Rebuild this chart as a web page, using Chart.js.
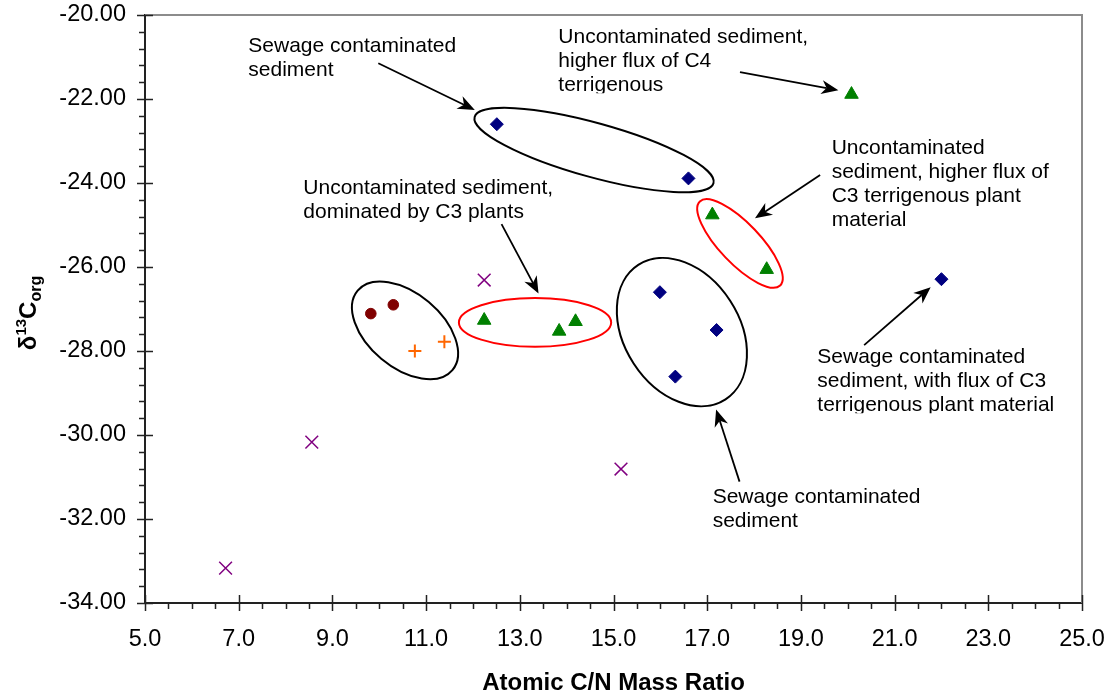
<!DOCTYPE html>
<html>
<head>
<meta charset="utf-8">
<script src="https://cdn.jsdelivr.net/npm/chart.js@4.4.0/dist/chart.umd.min.js"></script>
<style>
  html, body { margin: 0; padding: 0; background: #fff; }
  canvas { display: block; }
</style>
</head>
<body>
<canvas id="cnChart" width="1114" height="698"></canvas>
<script>
// C/N ratio (x) vs d13C org (y) for each sample group
const sewageCN = [12.51, 16.60, 15.99, 17.20, 16.32, 22.00];
const sewageD13C = [-22.60, -23.89, -26.60, -27.50, -28.61, -26.29];
const uncontamCN = [20.08, 17.11, 18.27, 12.24, 13.84, 14.19];
const uncontamD13C = [-21.89, -24.76, -26.06, -27.27, -27.53, -27.30];
const groupACN = [9.82, 10.30];
const groupAD13C = [-27.11, -26.90];
const groupBCN = [10.76, 11.39];
const groupBD13C = [-28.00, -27.78];
const groupCCN = [12.24, 8.56, 6.72, 15.16];
const groupCD13C = [-26.31, -30.17, -33.17, -30.81];

const xTickValues = [5, 7, 9, 11, 13, 15, 17, 19, 21, 23, 25];
const yTickValues = [-34, -32, -30, -28, -26, -24, -22, -20];

// groupings drawn round the points (box before rotation, in data units)
const ellipses = [
  { xMin: 11.94, xMax: 17.23, yMin: -23.86, yMax: -22.57, rotation: 15.5, color: '#000' },
  { xMin: 16.46, xMax: 18.94, yMin: -25.92, yMax: -24.96, rotation: 46.3, color: '#ff0000' },
  { xMin: 14.75, xMax: 18.17, yMin: -28.92, yMax: -26.18, rotation: 57, color: '#000' },
  { xMin: 9.23, xMax: 11.87, yMin: -28.39, yMax: -26.63, rotation: 40, color: '#000' },
  { xMin: 11.70, xMax: 14.95, yMin: -27.90, yMax: -26.74, rotation: 0, color: '#ff0000' }
];

const arrows = [
  { from: [9.98, -21.15], to: [12.04, -22.26] },
  { from: [17.70, -21.36], to: [19.80, -21.79] },
  { from: [19.41, -23.81], to: [18.02, -24.84] },
  { from: [12.61, -24.98], to: [13.40, -26.63] },
  { from: [17.69, -31.11], to: [17.19, -29.39] },
  { from: [20.35, -27.86], to: [21.77, -26.48] }
];

// x/y = left end of the first line's baseline; clip cuts below the last baseline
const notes = [
  { x: 7.205, y: -20.874, lines: ['Sewage contaminated', 'sediment'] },
  { x: 13.822, y: -20.674, lines: ['Uncontaminated sediment,', 'higher flux of C4', 'terrigenous'], clip: 2 },
  { x: 19.657, y: -23.310, lines: ['Uncontaminated', 'sediment, higher flux of', 'C3 terrigenous plant', 'material'] },
  { x: 8.379, y: -24.269, lines: ['Uncontaminated sediment,', 'dominated by C3 plants'] },
  { x: 17.117, y: -31.612, lines: ['Sewage contaminated', 'sediment'] },
  { x: 19.350, y: -28.293, lines: ['Sewage contaminated', 'sediment, with flux of C3', 'terrigenous plant material'], clip: 2 }
];

const FONT = '"Liberation Sans", Arial, sans-serif';
Chart.defaults.font.family = FONT;
Chart.defaults.color = '#000';

const toPoints = (xs, ys) => xs.map((x, i) => ({ x: x, y: ys[i] }));

const drawArrow = (ctx, x0, y0, x1, y1) => {
  const len = Math.hypot(x1 - x0, y1 - y0);
  const ux = (x1 - x0) / len, uy = (y1 - y0) / len;
  const nx = -uy, ny = ux;
  const L = 17, W = 7, notch = 5;
  const bx = x1 - ux * L, by = y1 - uy * L;
  const mx = x1 - ux * (L - notch), my = y1 - uy * (L - notch);
  ctx.beginPath();
  ctx.moveTo(x0, y0);
  ctx.lineTo(mx, my);
  ctx.stroke();
  ctx.beginPath();
  ctx.moveTo(x1, y1);
  ctx.lineTo(bx + nx * W, by + ny * W);
  ctx.lineTo(mx, my);
  ctx.lineTo(bx - nx * W, by - ny * W);
  ctx.closePath();
  ctx.fill();
};

const annotationsPlugin = {
  id: 'cnAnnotations',
  afterDraw(chart) {
    const { ctx, chartArea: area, scales: { x, y } } = chart;
    ctx.save();

    // grey frame on top and right
    ctx.strokeStyle = '#8c8c8c';
    ctx.lineWidth = 2;
    ctx.beginPath();
    ctx.moveTo(area.left, area.top);
    ctx.lineTo(area.right, area.top);
    ctx.lineTo(area.right, area.bottom);
    ctx.stroke();

    // tick marks: majors cross the axis, minors sit outside
    ctx.strokeStyle = '#222';
    ctx.lineWidth = 1.5;
    ctx.beginPath();
    for (let i = 0; i <= 40; i++) {
      const px = Math.round(x.getPixelForValue(5 + i * 0.5)) + 0.5;
      const major = i % 4 === 0;
      ctx.moveTo(px, area.bottom + (major ? -8 : 0));
      ctx.lineTo(px, area.bottom + (major ? 8 : 6));
    }
    for (let i = 0; i <= 35; i++) {
      const py = Math.round(y.getPixelForValue(-34 + i * 0.4)) + 0.5;
      const major = i % 5 === 0;
      ctx.moveTo(area.left - (major ? 8 : 6), py);
      ctx.lineTo(area.left + (major ? 8 : 0), py);
    }
    ctx.stroke();

    // ellipses
    ctx.lineWidth = 2;
    ellipses.forEach((e) => {
      const x0 = x.getPixelForValue(e.xMin), x1 = x.getPixelForValue(e.xMax);
      const y0 = y.getPixelForValue(e.yMin), y1 = y.getPixelForValue(e.yMax);
      ctx.strokeStyle = e.color;
      ctx.beginPath();
      ctx.ellipse((x0 + x1) / 2, (y0 + y1) / 2, Math.abs(x1 - x0) / 2, Math.abs(y1 - y0) / 2,
        e.rotation * Math.PI / 180, 0, Math.PI * 2);
      ctx.stroke();
    });

    // arrows
    ctx.strokeStyle = '#000';
    ctx.fillStyle = '#000';
    ctx.lineWidth = 1.8;
    arrows.forEach((a) => {
      drawArrow(ctx,
        x.getPixelForValue(a.from[0]), y.getPixelForValue(a.from[1]),
        x.getPixelForValue(a.to[0]), y.getPixelForValue(a.to[1]));
    });

    // notes
    ctx.font = '21px ' + FONT;
    ctx.textAlign = 'left';
    ctx.textBaseline = 'alphabetic';
    notes.forEach((n) => {
      const px = x.getPixelForValue(n.x), py = y.getPixelForValue(n.y);
      ctx.save();
      if (n.clip !== undefined) {
        ctx.beginPath();
        ctx.rect(px - 5, py - 30, 400, (n.lines.length - 1) * 24 + 30 + n.clip);
        ctx.clip();
      }
      n.lines.forEach((line, i) => ctx.fillText(line, px, py + i * 24));
      ctx.restore();
    });

    // y axis title: delta 13 C org
    ctx.translate(36, (area.top + area.bottom) / 2 + 4);
    ctx.rotate(-Math.PI / 2);
    const parts = [
      { t: '\u03b4', f: 'bold 24px ' + FONT, dy: 0 },
      { t: '13', f: 'bold 15px ' + FONT, dy: -10 },
      { t: 'C', f: 'bold 24px ' + FONT, dy: 0 },
      { t: 'org', f: 'bold 16px ' + FONT, dy: 5 }
    ];
    let total = 0;
    parts.forEach((p) => { ctx.font = p.f; p.w = ctx.measureText(p.t).width; total += p.w; });
    let cx = -total / 2;
    parts.forEach((p) => { ctx.font = p.f; ctx.fillText(p.t, cx, p.dy); cx += p.w; });

    ctx.restore();
  }
};

new Chart(document.getElementById('cnChart'), {
  type: 'scatter',
  data: {
    datasets: [
      {
        label: 'Sewage contaminated',
        data: toPoints(sewageCN, sewageD13C),
        pointStyle: 'rectRot', pointRadius: 6.5, borderWidth: 1,
        backgroundColor: '#000080', borderColor: '#000080'
      },
      {
        label: 'Uncontaminated',
        data: toPoints(uncontamCN, uncontamD13C),
        pointStyle: 'triangle', pointRadius: 7.8, borderWidth: 1,
        backgroundColor: '#008000', borderColor: '#008000'
      },
      {
        label: 'Group A',
        data: toPoints(groupACN, groupAD13C),
        pointStyle: 'circle', pointRadius: 5.3, borderWidth: 1,
        backgroundColor: '#800000', borderColor: '#800000'
      },
      {
        label: 'Group B',
        data: toPoints(groupBCN, groupBD13C),
        pointStyle: 'cross', pointRadius: 6.5, borderWidth: 2,
        backgroundColor: '#ff6600', borderColor: '#ff6600'
      },
      {
        label: 'Group C',
        data: toPoints(groupCCN, groupCD13C),
        pointStyle: 'crossRot', pointRadius: 9, borderWidth: 1.5,
        backgroundColor: '#800080', borderColor: '#800080'
      }
    ]
  },
  options: {
    responsive: false,
    animation: false,
    layout: { autoPadding: false, padding: { top: 15, right: 32, left: 0, bottom: 0 } },
    plugins: {
      legend: { display: false },
      tooltip: { enabled: false }
    },
    scales: {
      x: {
        type: 'linear',
        min: 5,
        max: 25,
        afterBuildTicks: (scale) => { scale.ticks = xTickValues.map((v) => ({ value: v })); },
        afterFit: (scale) => {
          scale.height = 95;
          scale.paddingLeft = 0;
          scale.paddingRight = 0;
        },
        ticks: {
          padding: 14,
          font: { size: 23.5 },
          color: '#000',
          callback: (v) => Number(v).toFixed(1)
        },
        grid: { drawOnChartArea: false, color: 'transparent', tickLength: 8 },
        border: { color: '#222', width: 2 },
        title: {
          display: true,
          text: 'Atomic C/N Mass Ratio',
          font: { size: 24, weight: 'bold' },
          color: '#000',
          padding: { top: 0, bottom: 0 }
        }
      },
      y: {
        type: 'linear',
        min: -34,
        max: -20,
        afterBuildTicks: (scale) => { scale.ticks = yTickValues.map((v) => ({ value: v })); },
        afterFit: (scale) => {
          scale.width = 145;
          scale.paddingTop = 0;
          scale.paddingBottom = 0;
        },
        ticks: {
          padding: 11,
          font: { size: 23.5 },
          color: '#000',
          callback: (v) => Number(v).toFixed(2)
        },
        grid: { drawOnChartArea: false, color: 'transparent', tickLength: 8 },
        border: { color: '#222', width: 2 }
      }
    }
  },
  plugins: [annotationsPlugin]
});
</script>
</body>
</html>
